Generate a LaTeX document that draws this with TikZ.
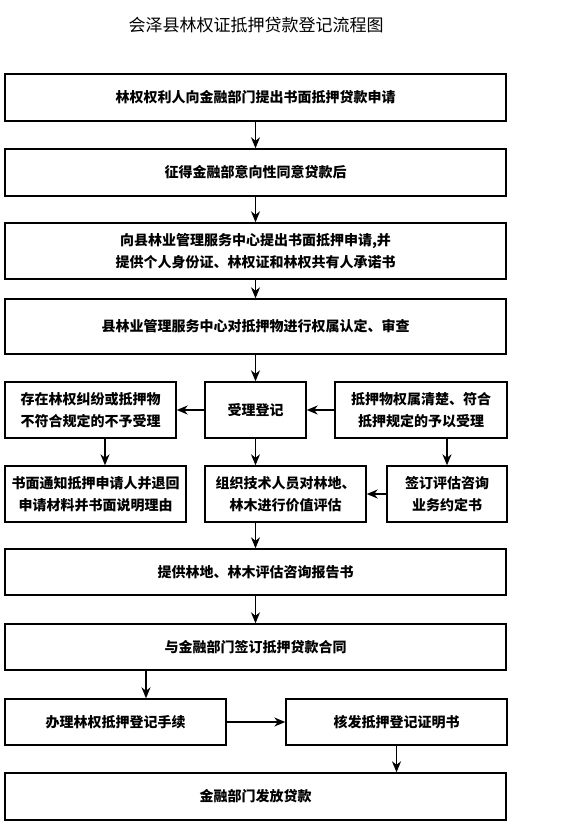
\documentclass[tikz,border=0pt]{standalone}
\usepackage{fontspec}
\newfontfamily\cjk{Noto Sans CJK SC}
\usetikzlibrary{arrows.meta}
\begin{document}
\begin{tikzpicture}[x=1pt,y=-1pt,
  box/.style={draw=black,line width=1.4pt,rectangle,inner sep=2pt,align=center,
    font=\cjk\bfseries\fontsize{14}{22}\selectfont,text=black},
  arr/.style={draw=black,line width=1.3pt,-{Stealth[length=11pt,width=9pt,inset=3.5pt]}}]
\useasboundingbox (0,0) rectangle (561,834);
\node[font=\cjk\fontsize{17}{20}\selectfont] (title) at (256,25) {会泽县林权证抵押贷款登记流程图};
\node[box,minimum width=501pt,minimum height=47pt] (b1) at (255.5,97.5) {林权权利人向金融部门提出书面抵押贷款申请};
\node[box,minimum width=501pt,minimum height=47pt] (b2) at (255.5,172.5) {征得金融部意向性同意贷款后};
\node[box,minimum width=501pt,minimum height=56pt] (b3) at (255.5,251) {向县林业管理服务中心提出书面抵押申请,并\\提供个人身份证、林权证和林权共有人承诺书};
\node[box,minimum width=501pt,minimum height=55pt] (b4) at (255.5,326.5) {县林业管理服务中心对抵押物进行权属认定、审查};
\node[box,minimum width=171pt,minimum height=56pt] (L1) at (90.5,410) {存在林权纠纷或抵押物\\不符合规定的不予受理};
\node[box,minimum width=101pt,minimum height=56pt] (M1) at (255.5,410) {受理登记};
\node[box,minimum width=172pt,minimum height=56pt] (R1) at (421,410) {抵押物权属清楚、符合\\抵押规定的予以受理};
\node[box,minimum width=181pt,minimum height=56pt] (L2) at (95.5,494) {书面通知抵押申请人并退回\\申请材料并书面说明理由};
\node[box,minimum width=161pt,minimum height=56pt] (M2) at (285.5,494) {组织技术人员对林地、\\林木进行价值评估};
\node[box,minimum width=120pt,minimum height=56pt] (R2) at (447,494) {签订评估咨询\\业务约定书};
\node[box,minimum width=501pt,minimum height=46pt] (b5) at (255.5,572) {提供林地、林木评估咨询报告书};
\node[box,minimum width=501pt,minimum height=46pt] (b6) at (255.5,647) {与金融部门签订抵押贷款合同};
\node[box,minimum width=221pt,minimum height=46pt] (L3) at (115.5,722) {办理林权抵押登记手续};
\node[box,minimum width=221pt,minimum height=46pt] (R3) at (396.5,722) {核发抵押登记证明书};
\node[box,minimum width=501pt,minimum height=47pt] (b7) at (255.5,796.5) {金融部门发放贷款};
\coordinate (xL) at (105,0);
\coordinate (xB) at (146,0);
\draw[arr] (b1) -- (b2);
\draw[arr] (b2) -- (b3);
\draw[arr] (b3) -- (b4);
\draw[arr] (b4) -- (M1);
\draw[arr] (M1) -- (L1);
\draw[arr] (R1) -- (M1);
\draw[arr] (L1.south -| xL) -- (L2.north -| xL);
\draw[arr] (M1.south) -- (M2.north -| M1.south);
\draw[arr] (R1.south -| R2.north) -- (R2.north);
\draw[arr] (R2) -- (M2);
\draw[arr] (M2.south -| b5.north) -- (b5.north);
\draw[arr] (b5) -- (b6);
\draw[arr] (b6.south -| xB) -- (L3.north -| xB);
\draw[arr] (L3) -- (R3);
\draw[arr] (R3.south) -- (b7.north -| R3.south);
\end{tikzpicture}
\end{document}
